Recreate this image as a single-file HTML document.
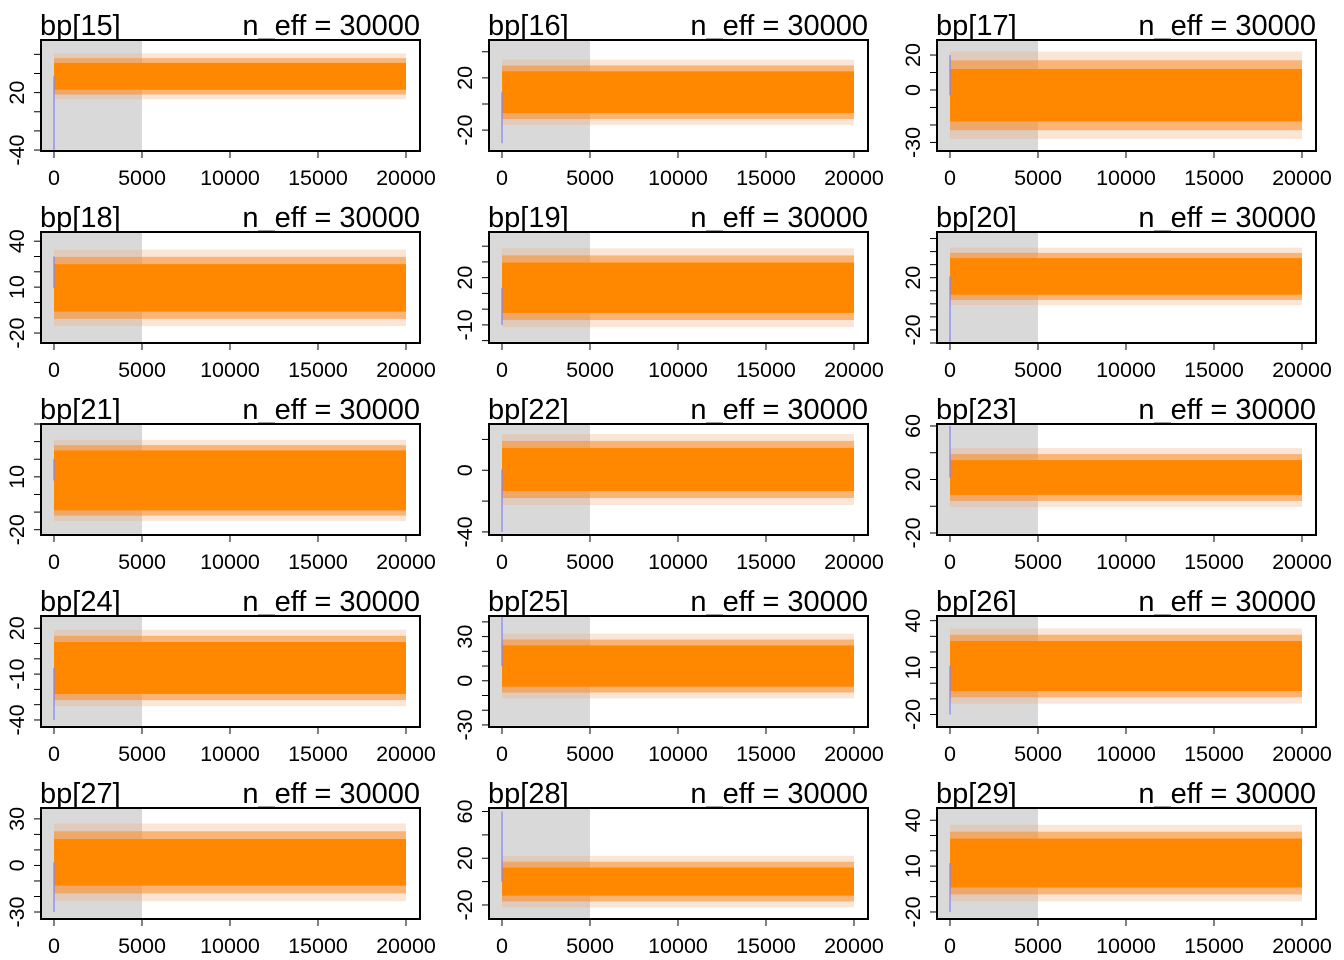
<!DOCTYPE html>
<html><head><meta charset="utf-8">
<style>
html,body{margin:0;padding:0;background:#fff;width:1344px;height:960px;overflow:hidden}
svg text{font-family:"Liberation Sans",Arial,sans-serif;fill:#000}
</style></head>
<body>
<svg id="chart" width="1344" height="960" xmlns="http://www.w3.org/2000/svg"></svg>
<script>
// Data per panel (bp[15]..bp[29])
const names = ["bp[15]","bp[16]","bp[17]","bp[18]","bp[19]","bp[20]","bp[21]","bp[22]","bp[23]","bp[24]","bp[25]","bp[26]","bp[27]","bp[28]","bp[29]"];
const neff = [30000,30000,30000,30000,30000,30000,30000,30000,30000,30000,30000,30000,30000,30000,30000];
const yTop = [75,49,28.6,46,49,55,40,30,61.5,28,44,43,37,63,48];
const yBot = [-41,-36,-34.9,-26.5,-21.5,-30,-23,-42,-21.5,-44.6,-31.4,-28,-34.5,-32,-24.6];
const tickStep = [20,20,10,10,10,10,10,20,20,10,10,10,10,20,10];
const yLabels = [[20,-40],[20,-20],[20,0,-30],[40,10,-20],[20,-10],[20,-20],[10,-20],[0,-40],[60,20,-20],[20,-10,-40],[30,0,-30],[40,10,-20],[30,0,-30],[60,20,-20],[40,10,-20]];
const centers = [37,9,-3,9.5,13.6,21,8,0.5,21.5,-6,10,11,2,0,12];
const coreHalf = [14,16,15,15.5,16,14,17,14,13,17,14,16,15,12,16];
const fringeHalf = [24,25,25,25,25,22,23,23,22,25,22,24,25,22,25];
const spikeVal = [-40,-30,20,30,-10,-30,20,-40,60,-40,44,-20,-30,60,-20];
const xTicks = [0,5000,10000,15000,20000];
const iterMax = 20000, warmup = 5000;

const NS="http://www.w3.org/2000/svg";
const svg=document.getElementById('chart');
function mk(tag,attrs,parent){const e=document.createElementNS(NS,tag);for(const k in attrs)e.setAttribute(k,attrs[k]);(parent||svg).appendChild(e);return e;}

for(let p=0;p<names.length;p++){
  const col=p%3,row=Math.floor(p/3);
  const ox=col*448, oy=row*192;
  const L=41+ox,R=420+ox,T=40+oy,B=151+oy;
  const g=mk('g',{});
  
  
  const xs=v=>54+ox+(v/iterMax)*352;
  const ys=v=>T+(yTop[p]-v)/(yTop[p]-yBot[p])*(B-T);
  const warm=mk('rect',{x:L,y:T,width:xs(warmup)-L,height:B-T,fill:'#d9d9d9'},g);
  
  
  const x0=xs(0),x1=xs(iterMax);
  const fr=mk('rect',{x:x0,y:ys(centers[p]+fringeHalf[p]),width:x1-x0,height:ys(centers[p]-fringeHalf[p])-ys(centers[p]+fringeHalf[p]),fill:'rgba(240,170,120,0.3)'},g);
  
  
  const fr2=mk('rect',{x:x0,y:ys(centers[p]+(coreHalf[p]+fringeHalf[p])/2),width:x1-x0,height:ys(centers[p]-(coreHalf[p]+fringeHalf[p])/2)-ys(centers[p]+(coreHalf[p]+fringeHalf[p])/2),fill:'rgba(250,140,40,0.55)'},g);
  
  
  const core=mk('rect',{x:x0,y:ys(centers[p]+coreHalf[p]),width:x1-x0,height:ys(centers[p]-coreHalf[p])-ys(centers[p]+coreHalf[p]),fill:'#ff8800'},g);
  
  
  const sp=mk('line',{x1:x0,x2:x0,y1:ys(centers[p]),y2:ys(spikeVal[p]),stroke:'#8080ff','stroke-width':1.2},g);
  
  
  const box=mk('rect',{x:L,y:T,width:R-L,height:B-T,fill:'none',stroke:'#000','stroke-width':2},g);
  
  
  xTicks.forEach(v=>{
    mk('line',{x1:xs(v),x2:xs(v),y1:B,y2:B+7,stroke:'#000','stroke-width':1},g);
    const t=mk('text',{x:xs(v),y:B+34,'font-size':21.5,'text-anchor':'middle'},g);
    t.textContent=v;
    
    
  });
  const st=tickStep[p];
  for(let v=Math.ceil(yBot[p]/st)*st; v<=yTop[p]; v+=st){
    mk('line',{x1:L-7,x2:L,y1:ys(v),y2:ys(v),stroke:'#000','stroke-width':1},g);
  }
  yLabels[p].forEach(v=>{
    const yy=ys(v), xx=L-17;
    const t=mk('text',{x:xx,y:yy,'font-size':21.5,'text-anchor':'middle',transform:`rotate(-90 ${xx} ${yy})`},g);
    t.textContent=v;
    
    
  });
  const ti=mk('text',{x:L-1,y:T-5,'font-size':29},g);
  ti.textContent=names[p];
  
  
  const ne=mk('text',{x:R,y:T-5,'font-size':29,'text-anchor':'end'},g);
  ne.textContent='n_eff = '+neff[p];
  
  
}
</script>
</body></html>
